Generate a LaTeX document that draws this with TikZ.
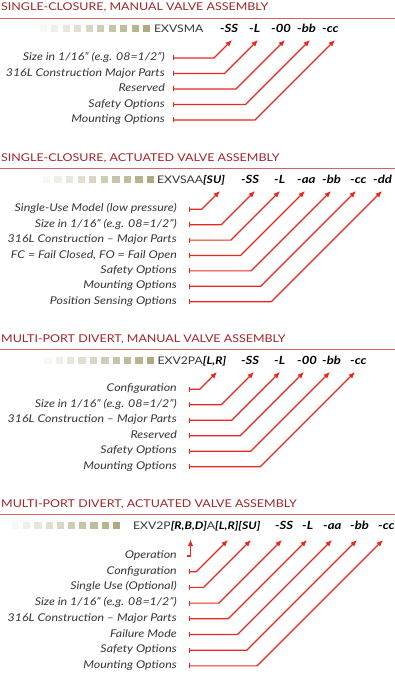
\documentclass[tikz,border=0pt]{standalone}
\usepackage{fontspec}
\setmainfont{Lato}[FakeStretch=1.16]
\usetikzlibrary{arrows.meta,calc}
\definecolor{arrred}{RGB}{232,40,30}
\definecolor{titred}{RGB}{160,40,42}
\definecolor{rulered}{RGB}{210,100,100}
\definecolor{labgray}{RGB}{55,55,55}
\definecolor{khaki}{RGB}{176,170,130}
\tikzset{
 lab/.style={anchor=mid east, inner sep=0pt, font=\fontsize{10.7}{12}\selectfont\itshape, text=labgray},
 code/.style={anchor=base west, inner sep=0pt, font=\fontsize{11.3}{12}\selectfont\bfseries\itshape},
 model/.style={anchor=base west, inner sep=0pt, font=\fontsize{10.5}{12}\selectfont, text=labgray},
 ttl/.style={anchor=base west, inner sep=0pt, font=\fontsize{10.75}{13}\selectfont, text=titred},
 rulestyle/.style={draw=rulered, line width=0.8pt},
 conn/.style={draw=arrred, line width=1.15pt, {Bar[width=5pt,line width=1.15pt]}-{Latex[length=6.5pt,width=5.5pt]}},
 connhook/.style={draw=arrred, line width=1.15pt, -{Latex[length=6.5pt,width=5.5pt]}},
 sqbox/.style={draw=none, minimum size=7.3pt, inner sep=0pt, anchor=south west},
}
\newcommand\myconn[2]{\draw[conn] let \p1=(#1), \p2=(#2) in (#1) -- ({\x2-(\y2)+(\y1)},\y1) -- (#2);}
\newcommand\mysquares[4]{%
 \foreach \i in {0,...,9} {
  \pgfmathtruncatemacro\pc{8+92*\i/9}
  \node[sqbox, fill=khaki!\pc!white] (#1\i) at ({#2+#4*\i},#3) {};
 }}
\newcommand\bi[1]{\textcolor{black}{\textbf{\textit{#1}}}}
\begin{document}
\begin{tikzpicture}[x=1pt,y=-1pt]
\fill[white] (0,0) rectangle (395,679);
\useasboundingbox (0,0) rectangle (395,679);

% ---------- Section 1 ----------
\node[ttl] (T1) at (1,11) {SINGLE-CLOSURE, MANUAL VALVE ASSEMBLY};
\coordinate (r1a) at (0,18.3); \coordinate (r1b) at (395,18.3);
\draw[rulestyle] (r1a) -- (r1b);
\mysquares{qa}{39.3}{32.7}{11.5}
\node[model] (M1) at (154,33) {EXVSMA};
\node[code] (c1a) at (220,33) {-SS};
\node[code] (c1b) at (249,33) {-L};
\node[code] (c1c) at (271,33) {-00};
\node[code] (c1d) at (297,33) {-bb};
\node[code] (c1e) at (322,33) {-cc};
\node[lab] (l1a) at (165,58) {Size in 1/16” (e.g. 08=1/2”)};
\node[lab] (l1b) at (165,73.5) {316L Construction Major Parts};
\node[lab] (l1c) at (165,89) {Reserved};
\node[lab] (l1d) at (165,104.5) {Safety Options};
\node[lab] (l1e) at (165,120) {Mounting Options};
\coordinate (s1a) at (173,58);   \coordinate (t1a) at (232,40);
\coordinate (s1b) at (173,73.5); \coordinate (t1b) at (258,40);
\coordinate (s1c) at (173,89);   \coordinate (t1c) at (285,40);
\coordinate (s1d) at (173,104.5);\coordinate (t1d) at (310,40);
\coordinate (s1e) at (173,120);  \coordinate (t1e) at (335,40);
\myconn{s1a}{t1a}\myconn{s1b}{t1b}\myconn{s1c}{t1c}\myconn{s1d}{t1d}\myconn{s1e}{t1e}

% ---------- Section 2 ----------
\node[ttl] (T2) at (1,161) {SINGLE-CLOSURE, ACTUATED VALVE ASSEMBLY};
\coordinate (r2a) at (0,168.3); \coordinate (r2b) at (395,168.3);
\draw[rulestyle] (r2a) -- (r2b);
\mysquares{qb}{42.7}{183.3}{11.55}
\node[model] (M2) at (157,183.3) {EXVSAA\bi{[SU]}};
\node[code] (c2a) at (241,183.3) {-SS};
\node[code] (c2b) at (274,183.3) {-L};
\node[code] (c2c) at (297,183.3) {-aa};
\node[code] (c2d) at (322,183.3) {-bb};
\node[code] (c2e) at (350,183.3) {-cc};
\node[code] (c2f) at (373,183.3) {-dd};
\node[lab] (l2a) at (177,209.3) {Single-Use Model (low pressure)};
\node[lab] (l2b) at (177,224.7) {Size in 1/16” (e.g. 08=1/2”)};
\node[lab] (l2c) at (177,240.1) {316L Construction – Major Parts};
\node[lab] (l2d) at (177,255.5) {FC = Fail Closed, FO = Fail Open};
\node[lab] (l2e) at (177,270.9) {Safety Options};
\node[lab] (l2f) at (177,286.3) {Mounting Options};
\node[lab] (l2g) at (177,301.7) {Position Sensing Options};
\coordinate (s2a) at (189,209.3); \coordinate (t2a) at (220,191);
\coordinate (s2b) at (189,224.7); \coordinate (t2b) at (255,191);
\coordinate (s2c) at (189,240.1); \coordinate (t2c) at (280,191);
\coordinate (s2d) at (189,255.5); \coordinate (t2d) at (305,191);
\coordinate (s2e) at (189,270.9); \coordinate (t2e) at (331,191);
\coordinate (s2f) at (189,286.3); \coordinate (t2f) at (356,191);
\coordinate (s2g) at (189,301.7); \coordinate (t2g) at (382,191);
\myconn{s2a}{t2a}\myconn{s2b}{t2b}\myconn{s2c}{t2c}\myconn{s2d}{t2d}
\myconn{s2e}{t2e}\myconn{s2f}{t2f}\myconn{s2g}{t2g}

% ---------- Section 3 ----------
\node[ttl] (T3) at (1,342) {MULTI-PORT DIVERT, MANUAL VALVE ASSEMBLY};
\coordinate (r3a) at (0,349); \coordinate (r3b) at (395,349);
\draw[rulestyle] (r3a) -- (r3b);
\mysquares{qc}{44}{364.3}{11.4}
\node[model] (M3) at (157.5,364.3) {EXV2PA\bi{[L,R]}};
\node[code] (c3a) at (241,364.3) {-SS};
\node[code] (c3b) at (274,364.3) {-L};
\node[code] (c3c) at (297,364.3) {-00};
\node[code] (c3d) at (322,364.3) {-bb};
\node[code] (c3e) at (350,364.3) {-cc};
\node[lab] (l3a) at (177,389.3) {Configuration};
\node[lab] (l3b) at (177,404.8) {Size in 1/16” (e.g. 08=1/2”)};
\node[lab] (l3c) at (177,420.3) {316L Construction – Major Parts};
\node[lab] (l3d) at (177,435.8) {Reserved};
\node[lab] (l3e) at (177,451.3) {Safety Options};
\node[lab] (l3f) at (177,466.8) {Mounting Options};
\coordinate (s3a) at (189,389.3); \coordinate (t3a) at (217,372);
\coordinate (s3b) at (189,404.8); \coordinate (t3b) at (254,372);
\coordinate (s3c) at (189,420.3); \coordinate (t3c) at (280,372);
\coordinate (s3d) at (189,435.8); \coordinate (t3d) at (304,372);
\coordinate (s3e) at (189,451.3); \coordinate (t3e) at (330,372);
\coordinate (s3f) at (189,466.8); \coordinate (t3f) at (355,372);
\myconn{s3a}{t3a}\myconn{s3b}{t3b}\myconn{s3c}{t3c}\myconn{s3d}{t3d}
\myconn{s3e}{t3e}\myconn{s3f}{t3f}

% ---------- Section 4 ----------
\node[ttl] (T4) at (1,507.7) {MULTI-PORT DIVERT, ACTUATED VALVE ASSEMBLY};
\coordinate (r4a) at (0,514.3); \coordinate (r4b) at (395,514.3);
\draw[rulestyle] (r4a) -- (r4b);
\mysquares{qd}{11.7}{529}{11.2}
\node[model] (M4) at (133,529.3) {EXV2P\bi{[R,B,D]}A\bi{[L,R][SU]}};
\node[code] (c4a) at (275,529.3) {-SS};
\node[code] (c4b) at (302,529.3) {-L};
\node[code] (c4c) at (323,529.3) {-aa};
\node[code] (c4d) at (350,529.3) {-bb};
\node[code] (c4e) at (378,529.3) {-cc};
\node[lab] (l4a) at (177,556) {Operation};
\node[lab] (l4b) at (177,571.7) {Configuration};
\node[lab] (l4c) at (177,587.4) {Single Use (Optional)};
\node[lab] (l4d) at (177,603.1) {Size in 1/16” (e.g. 08=1/2”)};
\node[lab] (l4e) at (177,618.8) {316L Construction – Major Parts};
\node[lab] (l4f) at (177,634.5) {Failure Mode};
\node[lab] (l4g) at (177,650.2) {Safety Options};
\node[lab] (l4h) at (177,665.9) {Mounting Options};
\coordinate (s4a) at (187,556);   \coordinate (b4a) at (190.5,556); \coordinate (t4a) at (190.5,539.5);
\coordinate (s4b) at (189,571.7); \coordinate (t4b) at (228,540);
\coordinate (s4c) at (189,587.4); \coordinate (t4c) at (251,540);
\coordinate (s4d) at (189,603.1); \coordinate (t4d) at (282,540);
\coordinate (s4e) at (189,618.8); \coordinate (t4e) at (307,540);
\coordinate (s4f) at (189,634.5); \coordinate (t4f) at (332,540);
\coordinate (s4g) at (189,650.2); \coordinate (t4g) at (357,540);
\coordinate (s4h) at (189,665.9); \coordinate (t4h) at (383,540);
\draw[connhook] (s4a) -- (b4a) -- (t4a);
\myconn{s4b}{t4b}\myconn{s4c}{t4c}\myconn{s4d}{t4d}\myconn{s4e}{t4e}
\myconn{s4f}{t4f}\myconn{s4g}{t4g}\myconn{s4h}{t4h}
\end{tikzpicture}
\end{document}
